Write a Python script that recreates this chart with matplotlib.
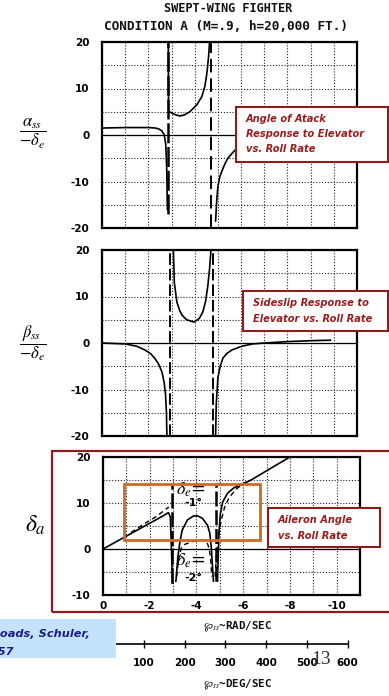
import matplotlib.pyplot as plt
from matplotlib.patches import Rectangle

plt.rcParams['axes.unicode_minus'] = False
plt.rcParams['mathtext.fontset'] = 'stix'

# --- roll-rate axis (rad/sec, negative roll) ---
p_grid = [0, -1, -2, -3, -4, -5, -6, -7, -8, -9, -10]
p_labels = ['0', '', '-2', '', '-4', '', '-6', '', '-8', '', '-10']
y_grid = [-20, -15, -10, -5, 0, 5, 10, 15, 20]
y_labels = ['-20', '', '-10', '', '0', '', '10', '', '20']
ya_grid = [-10, -5, 0, 5, 10, 15, 20]
ya_labels = ['-10', '', '0', '', '10', '', '20']
deg_ticks = [100, 200, 300, 400, 500, 600]

# --- alpha_ss / -delta_e ---
alpha_x1 = [0, -1, -2, -2.3, -2.45, -2.58, -2.68, -2.75, -2.79, -2.82]
alpha_y1 = [1.5, 1.6, 1.6, 1.5, 1.3, 0.9, 0.1, -2, -7, -16]
alpha_x2 = [-2.86, -2.87, -2.95, -3.06, -3.2, -3.36, -3.55, -3.79, -4.09, -4.31, -4.44, -4.53, -4.6, -4.64]
alpha_y2 = [20, 5.2, 4.9, 4.6, 4.3, 4.1, 4.3, 5.0, 6.5, 8.3, 10.5, 13.5, 17, 20]
alpha_x3 = [-4.9, -4.95, -5.0, -5.08, -5.17, -5.3, -5.43, -5.6, -5.75]
alpha_y3 = [-18.5, -14, -11, -9, -7.8, -6.2, -5, -4, -3.2]
alpha_poles = [-2.84, -4.72]
alpha_pole_lo = [-17, -20]

# --- beta_ss / -delta_e ---
beta_x1 = [0, -1.0, -1.5, -1.85, -2.1, -2.28, -2.45, -2.59, -2.68, -2.74, -2.78, -2.8]
beta_y1 = [0, -0.2, -0.7, -1.5, -2.3, -3.3, -4.6, -6.3, -8.5, -11, -15, -20]
beta_x2 = [-3.08, -3.12, -3.23, -3.35, -3.45, -3.65, -3.97, -4.2, -4.35, -4.47, -4.57, -4.64, -4.7]
beta_y2 = [20, 13, 8.8, 7.0, 6.0, 5.0, 4.5, 5.3, 6.7, 9, 12.5, 16, 20]
beta_x3 = [-4.9, -4.93, -5.0, -5.1, -5.22, -5.4, -5.6, -6.03, -6.5, -7.0, -8.0, -9.0, -9.85]
beta_y3 = [-20, -13, -7.4, -5, -3.2, -2.2, -1.5, -0.7, -0.2, 0.0, 0.3, 0.5, 0.6]
beta_poles = [-2.95, -4.8]

# --- aileron angle, delta_e = -1 deg (solid) ---
ail_x1 = [0, -1, -2, -2.5, -2.8, -2.88, -2.93, -2.97]
ail_y1 = [0, 2.8, 5.6, 7.0, 7.9, 7.0, 0, -7.4]
ail_x2 = [-3.12, -3.2, -3.29, -3.39, -3.61, -3.88, -4.05, -4.25, -4.47, -4.57, -4.64, -4.7, -4.73]
ail_y2 = [-7, -2, 1.5, 4.1, 6.3, 7.2, 7.2, 6.7, 5.2, 3.5, 0, -5, -7]
ail_x3 = [-4.9, -4.93, -4.96, -5.02, -5.12, -5.33, -5.6, -5.9, -6.34, -7.0, -8.0]
ail_y3 = [-7, -2, 3, 7.5, 10.2, 12.1, 13.3, 13.9, 15.0, 17.0, 20]

# --- aileron angle, delta_e = -2 deg (dashed) ---
ail2_x1 = [-1.2, -1.8, -2.2, -2.5, -2.7, -2.82]
ail2_y1 = [3.6, 5.6, 6.8, 7.9, 8.7, 9.1]
ail2_x2 = [-3.15, -3.23, -3.35, -3.5, -3.8, -4.1, -4.3, -4.45, -4.55, -4.62, -4.66]
ail2_y2 = [-6, -2.5, 0.2, 1.0, 1.6, 1.8, 2.0, 1.5, 0, -3, -6]
ail2_x3 = [-4.8, -4.86, -4.95, -5.05, -5.2, -5.4, -5.7, -6.0, -6.34]
ail2_y3 = [-6, -1, 3, 6, 9, 11.2, 13, 14.2, 15]
ail_poles = [-2.97, -4.85]
ail_pole_hi = [14, 14]
ail_pole_lo = [-7.4, -7]

W, H = 389, 696
def fx(px):
    return px / W
def fy(py):
    return 1 - py / H

fig = plt.figure(figsize=(W / 100, H / 100), dpi=100)
fig.patch.set_facecolor('white')

tick_font = dict(family='DejaVu Sans', weight='bold', size=7.5)
grid_kw = dict(color='#222222', lw=0.8, ls=(0, (1, 1.6)))
curve_kw = dict(color='black', lw=1.2)
dash_kw = dict(color='black', lw=1.0, ls=(0, (3.5, 2.5)))


def style_axes(ax, ylim, yticks, ylabels, xlabels):
    ax.set_xlim(0, -11)
    ax.set_ylim(*ylim)
    ax.set_xticks(p_grid)
    ax.set_yticks(yticks)
    ax.set_yticklabels(ylabels, **tick_font)
    if xlabels:
        ax.set_xticklabels(p_labels, **tick_font)
    else:
        ax.set_xticklabels([])
    ax.tick_params(length=0, pad=9, axis='y')
    ax.tick_params(length=0, pad=4, axis='x')
    ax.grid(True, **grid_kw)
    ax.axhline(0, color='black', lw=0.9)
    for s in ax.spines.values():
        s.set_linewidth(1.6)


# angle of attack
ax1 = fig.add_axes([fx(102), fy(228), fx(255), 186 / H])
style_axes(ax1, (-20, 20), y_grid, y_labels, False)
ax1.plot(alpha_x1, alpha_y1, **curve_kw)
ax1.plot(alpha_x2, alpha_y2, **curve_kw)
ax1.plot(alpha_x3, alpha_y3, **curve_kw)
ax1.vlines(alpha_poles[0], alpha_pole_lo[0], 20, color='black', lw=1.8, ls=(0, (8, 1.5)))
ax1.vlines(alpha_poles[1], alpha_pole_lo[1], 20, color='black', lw=1.4, ls=(0, (7, 3)))

# sideslip
ax2 = fig.add_axes([fx(102), fy(436), fx(255), 186 / H])
style_axes(ax2, (-20, 20), y_grid, y_labels, False)
ax2.plot(beta_x1, beta_y1, **curve_kw)
ax2.plot(beta_x2, beta_y2, **curve_kw)
ax2.plot(beta_x3, beta_y3, **curve_kw)
for p in beta_poles:
    ax2.axvline(p, color='black', lw=1.4, ls=(0, (6, 2)))

# aileron angle
ax3 = fig.add_axes([fx(103), fy(595), fx(257), 138 / H])
style_axes(ax3, (-10, 20), ya_grid, ya_labels, True)
ax3.plot(ail_x1, ail_y1, **curve_kw)
ax3.plot(ail_x2, ail_y2, **curve_kw)
ax3.plot(ail_x3, ail_y3, **curve_kw)
ax3.plot(ail2_x1, ail2_y1, **dash_kw)
ax3.plot(ail2_x2, ail2_y2, **dash_kw)
ax3.plot(ail2_x3, ail2_y3, **dash_kw)
ax3.vlines(ail_poles, ail_pole_lo, ail_pole_hi, color='black', lw=1.8, ls=(0, (6, 1.5)))
note_kw = dict(ha='center', va='center', fontsize=13, color='black')
deg_kw = dict(family='DejaVu Sans', weight='bold', fontsize=8, ha='center', va='center')
ax3.text(-3.75, 12.8, r'$\delta_e$=', **note_kw)
ax3.text(-3.85, 9.9, '-1°', **deg_kw)
ax3.text(-3.75, -2.6, r'$\delta_e$=', **note_kw)
ax3.text(-3.85, -6.3, '-2°', **deg_kw)

# degrees/sec scale under the plots
axd = fig.add_axes([fx(103), fy(644), fx(257), 10 / H])
axd.set_xlim(0, 11 * 57.2958)
axd.set_ylim(0, 1)
axd.patch.set_alpha(0)
for side in ['left', 'right', 'top']:
    axd.spines[side].set_visible(False)
axd.spines['bottom'].set_bounds(0, 600)
axd.spines['bottom'].set_linewidth(1.2)
axd.set_yticks([])
axd.set_xticks(deg_ticks)
axd.set_xticklabels([str(t) for t in deg_ticks], **tick_font)
axd.tick_params(axis='x', direction='inout', length=6, width=1.0, pad=7)

# titles and axis captions
mono = dict(family='DejaVu Sans Mono', weight='bold', color='#111111')
fig.text(fx(228), fy(8), 'SWEPT-WING FIGHTER', ha='center', va='center', fontsize=8.6, **mono)
fig.text(fx(226), fy(26), 'CONDITION A (M=.9, h=20,000 FT.)', ha='center', va='center', fontsize=9.2, **mono)
fig.text(fx(33), fy(134), r'$\dfrac{\alpha_{ss}}{-\delta_e}$', ha='center', va='center', fontsize=12)
fig.text(fx(33), fy(343), r'$\dfrac{\beta_{ss}}{-\delta_e}$', ha='center', va='center', fontsize=12)
fig.text(fx(35), fy(525), r'$\delta_a$', ha='center', va='center', fontsize=17)
fig.text(fx(238), fy(627), r'$\wp_{ss}$' + '~RAD/SEC', ha='center', va='center', fontsize=7.8, **mono)
fig.text(fx(238), fy(685), r'$\wp_{ss}$' + '~DEG/SEC', ha='center', va='center', fontsize=7.8, **mono)
fig.text(fx(321), fy(660), '13', ha='center', va='center', fontsize=14,
         family='Liberation Serif', color='#333333')

# callout boxes
red = '#8e1c1c'
label_font = dict(family='DejaVu Sans', weight='bold', style='italic', size=7.1, color='#9a1c1c')


def callout(x0, y0, x1, y1, lines, tx, ty, dy):
    fig.patches.append(Rectangle((fx(x0), fy(y1)), fx(x1 - x0), (y1 - y0) / H,
                                 transform=fig.transFigure, facecolor='white',
                                 edgecolor=red, lw=1.5))
    for i, s in enumerate(lines):
        fig.text(fx(tx), fy(ty + i * dy), s, ha='left', va='center', **label_font)


callout(236, 107, 388, 162, ['Angle of Atack', 'Response to Elevator', 'vs. Roll Rate'], 246, 119, 15)
callout(243, 291, 388, 331, ['Sideslip Response to', 'Elevator vs. Roll Rate'], 253, 303, 16)
callout(268, 508, 380, 547, ['Aileron Angle', 'vs. Roll Rate'], 278, 520, 16)

# frame around the aileron plot and highlight box
fig.patches.append(Rectangle((fx(52), fy(612)), fx(345), 161 / H, transform=fig.transFigure,
                             facecolor='none', edgecolor=red, lw=1.6))
fig.patches.append(Rectangle((fx(124), fy(540)), fx(136), 56 / H, transform=fig.transFigure,
                             facecolor='none', edgecolor='#cc6a22', lw=2.0))

# reference tag
fig.patches.append(Rectangle((0, fy(658)), fx(116), 39 / H, transform=fig.transFigure,
                             facecolor='#c4e2fb', edgecolor='none'))
ref_font = dict(family='DejaVu Sans', weight='bold', style='italic', size=8.2, color='#1c1c8a')
fig.text(fx(-17), fy(634), 'Rhoads, Schuler,', ha='left', va='center', **ref_font)
fig.text(fx(-17), fy(652), '1957', ha='left', va='center', **ref_font)

fig.savefig('out.png', dpi=100)
